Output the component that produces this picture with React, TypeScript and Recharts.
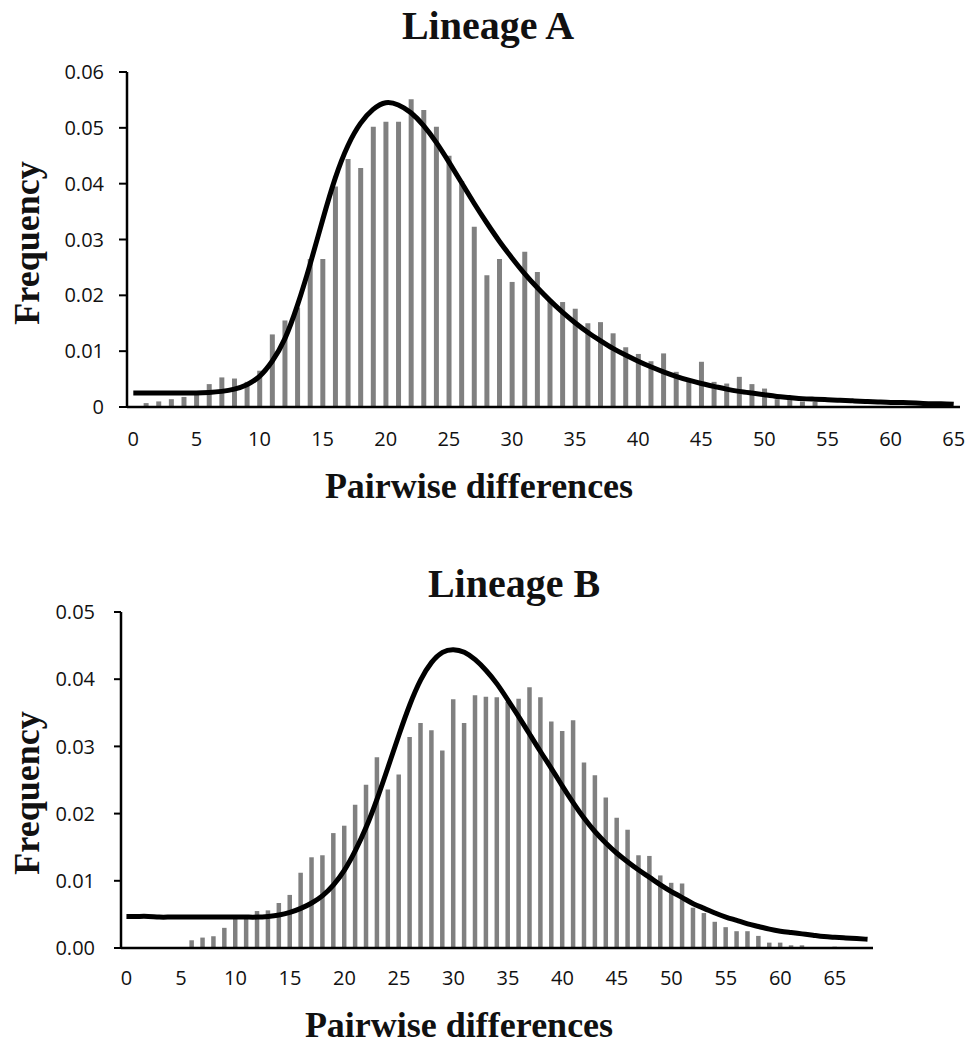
import { ComposedChart, Bar, Line, XAxis, YAxis } from "recharts";

// Lineage A: observed mismatch frequencies, categories 0..65
const BAR_A = [
  0, 0.0007, 0.001, 0.0014, 0.0018, 0.0022, 0.0041, 0.0053, 0.0051, 0.0045,
  0.0065, 0.013, 0.0155, 0.0178, 0.0265, 0.0265, 0.0395, 0.0444, 0.0428, 0.0502,
  0.0511, 0.0511, 0.0551, 0.0532, 0.0502, 0.045, 0.0405, 0.0323, 0.0236, 0.0265,
  0.0224, 0.0278, 0.0242, 0.0192, 0.0188, 0.0176, 0.015, 0.0152, 0.0132, 0.0107,
  0.0095, 0.0082, 0.0096, 0.0063, 0.0048, 0.0081, 0.0045, 0.0042, 0.0054, 0.0041,
  0.0033, 0.0014, 0.0015, 0.001, 0.0009, 0, 0, 0, 0, 0,
  0, 0, 0, 0, 0, 0,
];

// Lineage A: expected curve
const LINE_A = [
  0.0025, 0.0025, 0.0025, 0.0025, 0.0025, 0.0025, 0.0026, 0.0028, 0.0032, 0.004,
  0.0055, 0.0082, 0.0122, 0.0182, 0.0255, 0.0335, 0.041, 0.0468, 0.0508, 0.0533,
  0.0545, 0.0541, 0.0527, 0.0504, 0.0474, 0.0439, 0.0402, 0.0365, 0.033, 0.0297,
  0.0267, 0.0239, 0.0214, 0.0191, 0.017, 0.0151, 0.0134, 0.0119, 0.0105, 0.0093,
  0.0082, 0.0072, 0.0063, 0.0055, 0.0048, 0.0042, 0.0037, 0.0032, 0.0028, 0.0025,
  0.0022, 0.0019, 0.0017, 0.0015, 0.0014, 0.0013, 0.0012, 0.0011, 0.001, 0.0009,
  0.0008, 0.0008, 0.0007, 0.0006, 0.0006, 0.0005,
];

// Lineage B: observed mismatch frequencies, categories 0..68
const BAR_B = [
  0, 0, 0, 0, 0, 0, 0.00115, 0.00155, 0.00175, 0.003,
  0.0044, 0.0046, 0.0055, 0.0056, 0.0067, 0.0079, 0.0112, 0.0135, 0.0138, 0.0171,
  0.0182, 0.0213, 0.0243, 0.0284, 0.0236, 0.0258, 0.0314, 0.0335, 0.0324, 0.0294,
  0.037, 0.0335, 0.0376, 0.0374, 0.0373, 0.0366, 0.0371, 0.0388, 0.0373, 0.0337,
  0.0323, 0.0339, 0.0276, 0.0257, 0.0224, 0.0194, 0.0176, 0.0138, 0.0137, 0.0108,
  0.0097, 0.0096, 0.006, 0.0052, 0.0039, 0.0031, 0.0025, 0.0025, 0.0018, 0.0008,
  0.0008, 0.0004, 0.0004, 0, 0, 0.0002, 0, 0, 0,
];

// Lineage B: expected curve
const LINE_B = [
  0.0047, 0.0047, 0.0047, 0.0046, 0.0046, 0.0046, 0.0046, 0.0046, 0.0046, 0.0046,
  0.0046, 0.0046, 0.0046, 0.0047, 0.0049, 0.0053, 0.0059, 0.0067, 0.0078, 0.0094,
  0.0116, 0.0145, 0.018, 0.0222, 0.0269, 0.0317, 0.0362, 0.0399, 0.0425, 0.044,
  0.0444, 0.044, 0.0429, 0.0413, 0.0393, 0.0369, 0.0344, 0.0318, 0.0292, 0.0267,
  0.0241, 0.0216, 0.0193, 0.0173, 0.0156, 0.0141, 0.0128, 0.0116, 0.0105, 0.0094,
  0.0084, 0.0075, 0.0066, 0.0059, 0.0052, 0.0046, 0.0041, 0.0036, 0.0032, 0.0028,
  0.0025, 0.0023, 0.0021, 0.0019, 0.0017, 0.0016, 0.0015, 0.0014, 0.0013,
];

const TICKS_A = [0, 0.01, 0.02, 0.03, 0.04, 0.05, 0.06];
const TICKS_B = [0, 0.01, 0.02, 0.03, 0.04, 0.05];

const dataA = BAR_A.map((v, i) => ({ d: i, obs: v, exp: LINE_A[i] }));
const dataB = BAR_B.map((v, i) => ({ d: i, obs: v, exp: LINE_B[i] }));

const tickFont = { fontFamily: "Open Sans", fontSize: 20, fill: "#111" };
const axisStroke = { stroke: "#000", strokeWidth: 2.5 };
const serif = "'Liberation Serif', 'Times New Roman', serif";

export default function App() {
  return (
    <div style={{ position: "absolute", left: 0, top: 0, width: 979, height: 1045, background: "#fff" }}>
      <div style={{ position: "absolute", left: 0, top: 0 }}>
        <ComposedChart
          width={979}
          height={520}
          data={dataA}
          margin={{ top: 72, right: 19, left: 67, bottom: 13 }}
        >
          <XAxis
            dataKey="d"
            interval={4}
            tickLine={false}
            tickSize={0}
            tickMargin={25}
            axisLine={axisStroke}
            tick={tickFont}
            height={100}
          />
          <YAxis
            domain={[0, 0.06]}
            ticks={TICKS_A}
            tickFormatter={(v: number) => (v === 0 ? "0" : v.toFixed(2))}
            tickSize={8}
            tickMargin={15}
            tickLine={{ stroke: "#000", strokeWidth: 2 }}
            axisLine={axisStroke}
            tick={tickFont}
            width={60}
          />
          <Bar dataKey="obs" fill="#808080" barSize={5} isAnimationActive={false} />
          <Line
            dataKey="exp"
            type="natural"
            stroke="#000"
            strokeWidth={5}
            dot={false}
            activeDot={false}
            isAnimationActive={false}
          />
        </ComposedChart>
      </div>

      <div style={{ position: "absolute", left: 0, top: 540 }}>
        <ComposedChart
          width={979}
          height={505}
          data={dataB}
          margin={{ top: 72, right: 106, left: 61, bottom: 7 }}
        >
          <XAxis
            dataKey="d"
            interval={4}
            tickLine={false}
            tickSize={0}
            tickMargin={23}
            axisLine={axisStroke}
            tick={tickFont}
            height={90}
          />
          <YAxis
            domain={[0, 0.05]}
            ticks={TICKS_B}
            tickFormatter={(v: number) => v.toFixed(2)}
            tickSize={7}
            tickMargin={19}
            tickLine={{ stroke: "#000", strokeWidth: 2 }}
            axisLine={axisStroke}
            tick={tickFont}
            width={60}
          />
          <Bar dataKey="obs" fill="#808080" barSize={4.5} isAnimationActive={false} />
          <Line
            dataKey="exp"
            type="natural"
            stroke="#000"
            strokeWidth={5}
            dot={false}
            activeDot={false}
            isAnimationActive={false}
          />
        </ComposedChart>
      </div>

      <svg
        width={979}
        height={1045}
        style={{ position: "absolute", left: 0, top: 0, pointerEvents: "none" }}
      >
        <g fontFamily={serif} fontWeight="bold" fill="#111">
          <text x={488} y={39} fontSize={40} textAnchor="middle">Lineage A</text>
          <text x={479} y={498} fontSize={36} textAnchor="middle">Pairwise differences</text>
          <text x={514} y={597} fontSize={40} textAnchor="middle">Lineage B</text>
          <text x={459} y={1037} fontSize={36} textAnchor="middle">Pairwise differences</text>
          <text transform="translate(39,243) rotate(-90)" fontSize={36} textAnchor="middle">Frequency</text>
          <text transform="translate(39,793) rotate(-90)" fontSize={36} textAnchor="middle">Frequency</text>
        </g>
      </svg>
    </div>
  );
}
